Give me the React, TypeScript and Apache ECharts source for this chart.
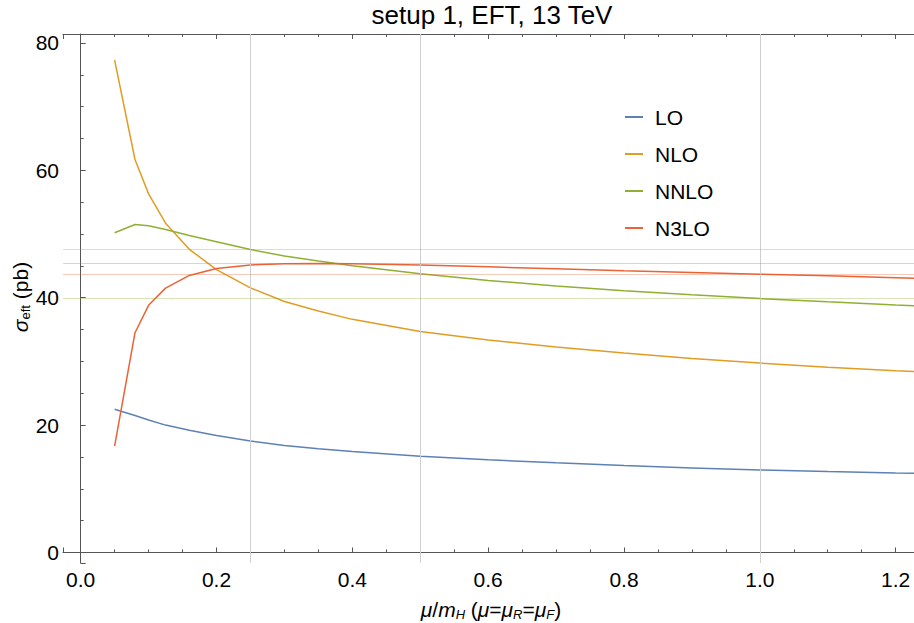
import React, { useEffect, useRef } from "react";
import * as echarts from "echarts";

// mu / m_H sample points
const muValues = [0.05, 0.08, 0.1, 0.125, 0.16, 0.2, 0.25, 0.3, 0.35, 0.4, 0.5, 0.6, 0.7, 0.8, 0.9, 1.0, 1.1, 1.2, 1.25];
// cross sections (pb)
const loValues = [22.5, 21.5, 20.8, 20.0, 19.2, 18.35, 17.5, 16.8, 16.3, 15.85, 15.1, 14.55, 14.07, 13.65, 13.28, 12.96, 12.7, 12.47, 12.38];
const nloValues = [77.3, 61.7, 56.3, 51.7, 47.6, 44.4, 41.55, 39.4, 37.9, 36.6, 34.7, 33.35, 32.25, 31.3, 30.45, 29.73, 29.1, 28.55, 28.3];
const nnloValues = [50.2, 51.5, 51.3, 50.7, 49.75, 48.8, 47.56, 46.55, 45.75, 45.0, 43.75, 42.7, 41.85, 41.1, 40.45, 39.87, 39.35, 38.87, 38.64];
const n3loValues = [16.7, 34.5, 38.8, 41.5, 43.5, 44.6, 45.15, 45.33, 45.36, 45.32, 45.15, 44.85, 44.53, 44.22, 43.95, 43.69, 43.43, 43.15, 43.0];

const seriesNames = ["LO", "NLO", "NNLO", "N3LO"];
const seriesColors = ["#5E81B5", "#E19C24", "#8FB032", "#EB6235"];

// reference grid lines
const gridMu = [0.25, 0.5, 1.0];
const nnloBand = [47.56, 39.87];
const n3loBand = [45.36, 43.69];

const xRange = [-0.026, 1.227];
const yRange = [-1.65, 81.4];

const FONT = "'Liberation Sans', Arial, sans-serif";

export default function App() {
  const ref = useRef<HTMLDivElement>(null);
  useEffect(() => {
    if (!ref.current) return;
    const chart = echarts.init(ref.current, undefined, { renderer: "svg" });
    const allValues = [loValues, nloValues, nnloValues, n3loValues];
    const axisLineStyle = { color: "#555", width: 1 };
    const xAxisBase = {
      type: "value",
      min: xRange[0],
      max: xRange[1],
      splitNumber: 6,
      axisLine: { show: true, lineStyle: axisLineStyle },
      axisTick: { show: true, inside: true, length: 5, lineStyle: axisLineStyle },
      minorTick: { show: true, splitNumber: 4, length: 3, lineStyle: axisLineStyle },
      splitLine: { show: false },
      minorSplitLine: { show: false },
    };
    const option: any = {
      animation: false,
      textStyle: { fontFamily: FONT },
      grid: { left: 63, right: 0, top: 34, bottom: 60, containLabel: false },
      legend: {
        data: seriesNames,
        orient: "vertical",
        left: 625,
        top: 106,
        padding: 0,
        itemGap: 15,
        itemWidth: 18,
        itemHeight: 2,
        icon: "rect",
        selectedMode: false,
        textStyle: { fontSize: 21, lineHeight: 22, color: "#000", fontFamily: FONT, padding: [0, 0, 0, 7] },
      },
      xAxis: [
        {
          ...xAxisBase,
          position: "bottom",
          axisLabel: {
            show: true,
            fontSize: 21,
            color: "#000",
            fontFamily: FONT,
            margin: 6,
            showMinLabel: false,
            showMaxLabel: false,
            formatter: (v: number) => v.toFixed(1),
          },
        },
        {
          ...xAxisBase,
          position: "top",
          axisLabel: { show: false },
        },
      ],
      yAxis: [
        {
          type: "value",
          min: yRange[0],
          max: yRange[1],
          splitNumber: 4,
          axisLine: { show: true, lineStyle: axisLineStyle },
          axisTick: { show: true, inside: true, length: 5, lineStyle: axisLineStyle },
          minorTick: { show: true, splitNumber: 4, length: 3, lineStyle: axisLineStyle },
          splitLine: { show: false },
          minorSplitLine: { show: false },
          axisLabel: {
            fontSize: 21,
            color: "#000",
            fontFamily: FONT,
            margin: 4,
            showMinLabel: false,
            showMaxLabel: false,
            formatter: (v: number) => String(Math.round(v)),
          },
        },
      ],
      series: [
        {
          type: "line",
          name: "_ref",
          data: [],
          z: 1,
          silent: true,
          markLine: {
            silent: true,
            symbol: ["none", "none"],
            label: { show: false },
            animation: false,
            data: [
              ...gridMu.map((v) => ({ xAxis: v, lineStyle: { color: "#cfcfcf", width: 1, type: "solid" } })),
              ...nnloBand.map((v) => ({ yAxis: v, lineStyle: { color: "rgba(143,176,50,0.35)", width: 1, type: "solid" } })),
              ...n3loBand.map((v) => ({ yAxis: v, lineStyle: { color: "rgba(235,98,53,0.35)", width: 1, type: "solid" } })),
            ],
          },
        },
        ...seriesNames.map((name, i) => ({
          type: "line",
          name,
          z: 3,
          data: muValues.map((m, j) => [m, allValues[i][j]]),
          showSymbol: false,
          symbol: "none",
          color: seriesColors[i],
          lineStyle: { color: seriesColors[i], width: 1.5 },
          clip: true,
        })),
      ],
      graphic: [
        {
          type: "text",
          x: 492,
          y: 15,
          style: {
            text: "setup 1, EFT, 13 TeV",
            fontSize: 26,
            fontFamily: FONT,
            fill: "#000",
            align: "center",
            verticalAlign: "middle",
          },
        },
        {
          type: "text",
          x: 491,
          y: 609,
          style: {
            text: "{i|μ}/{i|m}{s|H} ({i|μ}={i|μ}{s|R}={i|μ}{s|F})",
            fontSize: 21,
            lineHeight: 24,
            fontFamily: FONT,
            fill: "#000",
            align: "center",
            verticalAlign: "middle",
            rich: {
              i: { fontStyle: "italic", fontSize: 21, lineHeight: 24, fontFamily: FONT },
              s: { fontStyle: "italic", fontSize: 13, lineHeight: 13, verticalAlign: "bottom", fontFamily: FONT },
            },
          },
        },
        {
          type: "text",
          x: 20,
          y: 297,
          rotation: Math.PI / 2,
          style: {
            text: "{i|σ}{s|eft} (pb)",
            fontSize: 21,
            lineHeight: 24,
            fontFamily: FONT,
            fill: "#000",
            align: "center",
            verticalAlign: "middle",
            rich: {
              i: { fontStyle: "italic", fontSize: 21, lineHeight: 24, fontFamily: FONT },
              s: { fontSize: 13, lineHeight: 13, verticalAlign: "bottom", fontFamily: FONT },
            },
          },
        },
      ],
    };
    chart.setOption(option);
    return () => chart.dispose();
  }, []);
  return (
    <div
      ref={ref}
      style={{ position: "fixed", left: 0, top: 0, width: 914, height: 623, background: "#fff" }}
    />
  );
}
